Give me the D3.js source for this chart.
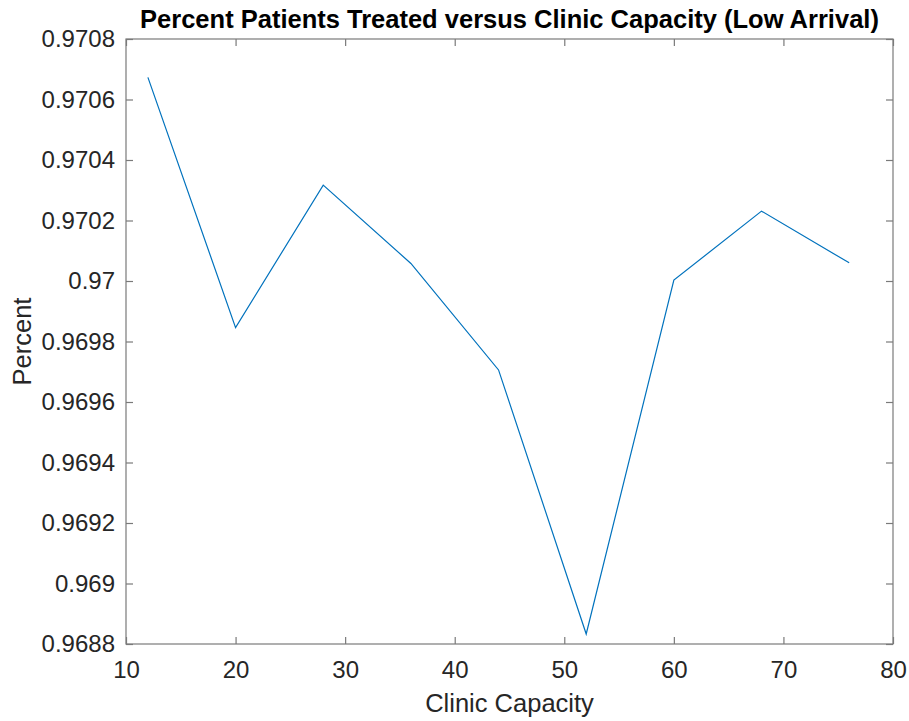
<!DOCTYPE html>
<html><head><meta charset="utf-8">
<script src="https://cdn.jsdelivr.net/npm/d3@7"></script>
<style>body{margin:0;background:#fff}svg{display:block}text{font-family:"Liberation Sans",Arial,sans-serif}</style>
</head><body><svg id="c" width="909" height="721"></svg>
<script>
const capacity = [12, 20, 28, 36, 44, 52, 60, 68, 76];
const percentTreated = [0.970673, 0.969846, 0.970317, 0.970058, 0.969706, 0.968833, 0.970003, 0.970231, 0.970060];
const xTicks = [10, 20, 30, 40, 50, 60, 70, 80];
const yTicks = [0.9688, 0.9690, 0.9692, 0.9694, 0.9696, 0.9698, 0.9700, 0.9702, 0.9704, 0.9706, 0.9708];
const titleText = "Percent Patients Treated versus Clinic Capacity (Low Arrival)";
const xLabel = "Clinic Capacity";
const yLabel = "Percent";

const svg = d3.select("#c");
const L = 126, R = 893, T = 39, B = 644;
const x = d3.scaleLinear().domain([10, 80]).range([L, R]);
const y = d3.scaleLinear().domain([0.9688, 0.9708]).range([B, T]);
const fmt = v => String(+v.toFixed(4));
const axCol = "#262626", lineCol = "#7a7a7a";

svg.append("rect").attr("x", L).attr("y", T).attr("width", R - L).attr("height", B - T)
  .attr("fill", "none").attr("stroke", lineCol).attr("stroke-width", 1.2);

const tl = 7;
const gx = svg.append("g").attr("transform", `translate(0,${B})`)
  .call(d3.axisBottom(x).tickValues(xTicks).tickSize(-tl).tickPadding(17).tickFormat(d3.format("d")));
const gxt = svg.append("g").attr("transform", `translate(0,${T})`)
  .call(d3.axisTop(x).tickValues(xTicks).tickSize(-tl).tickFormat(""));
const gy = svg.append("g").attr("transform", `translate(${L},0)`)
  .call(d3.axisLeft(y).tickValues(yTicks).tickSize(-tl).tickPadding(11).tickFormat(fmt));
const gyr = svg.append("g").attr("transform", `translate(${R},0)`)
  .call(d3.axisRight(y).tickValues(yTicks).tickSize(-tl).tickFormat(""));
[gx, gxt, gy, gyr].forEach(g => {
  g.select(".domain").remove();
  g.selectAll(".tick line").attr("stroke", lineCol).attr("stroke-width", 1.2);
  g.selectAll(".tick text").attr("fill", axCol).attr("font-size", 24).attr("font-family", '"Liberation Sans",Arial,sans-serif');
});

svg.append("path").datum(capacity.map((c, i) => [c, percentTreated[i]]))
  .attr("fill", "none").attr("stroke", "#0072BD").attr("stroke-width", 1.2)
  .attr("d", d3.line().x(d => x(d[0])).y(d => y(d[1])));

svg.append("text").attr("x", (L + R) / 2).attr("y", 28).attr("text-anchor", "middle")
  .attr("font-size", 25.5).attr("font-weight", "bold").attr("fill", "#000").text(titleText);
svg.append("text").attr("x", (L + R) / 2).attr("y", 712).attr("text-anchor", "middle")
  .attr("font-size", 25.5).attr("fill", axCol).text(xLabel);
svg.append("text").attr("transform", `translate(31,${(T + B) / 2}) rotate(-90)`).attr("text-anchor", "middle")
  .attr("font-size", 25.5).attr("fill", axCol).text(yLabel);
</script></body></html>
